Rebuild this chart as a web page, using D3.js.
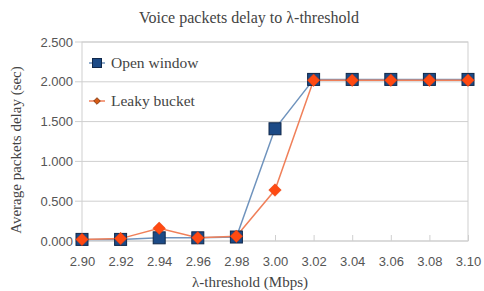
<!DOCTYPE html>
<html>
<head>
<meta charset="utf-8">
<script src="https://cdn.jsdelivr.net/npm/d3@7"></script>
<style>
  body { margin: 0; background: #fff; }
  .axis text { font-family: "Liberation Sans", Arial, sans-serif; font-size: 13px; fill: #555; }
  .ttl { font-family: "Liberation Serif", "Times New Roman", serif; fill: #444; }
</style>
</head>
<body>
<script>
// chart data
const thresholds = [2.90, 2.92, 2.94, 2.96, 2.98, 3.00, 3.02, 3.04, 3.06, 3.08, 3.10];
const openWindow = [0.02, 0.02, 0.04, 0.04, 0.05, 1.41, 2.03, 2.03, 2.03, 2.03, 2.03];
const leakyBucket = [0.02, 0.03, 0.16, 0.04, 0.06, 0.64, 2.02, 2.02, 2.02, 2.02, 2.02];
const yTicks = [0, 0.5, 1, 1.5, 2, 2.5];
const seriesNames = ['Open window', 'Leaky bucket'];

const width = 484, height = 291;
const margin = { top: 42, right: 16, bottom: 50, left: 82 };
const innerW = width - margin.left - margin.right;
const innerH = height - margin.top - margin.bottom;

const svg = d3.select('body').append('svg')
  .attr('width', width)
  .attr('height', height);

const plot = svg.append('g')
  .attr('transform', `translate(${margin.left},${margin.top})`);

const x = d3.scaleLinear().domain([2.90, 3.10]).range([0, innerW]);
const y = d3.scaleLinear().domain([0, 2.5]).range([innerH, 0]);

// gridlines
plot.selectAll('.grid')
  .data(yTicks)
  .enter().append('line')
    .attr('x1', -7).attr('x2', innerW)
    .attr('y1', d => y(d)).attr('y2', d => y(d))
    .attr('stroke', '#cfcfcf').attr('stroke-width', 1);

// frame
plot.append('rect')
  .attr('width', innerW).attr('height', innerH)
  .attr('fill', 'none').attr('stroke', '#cfcfcf');

// axes
const xAxis = d3.axisBottom(x).tickValues(thresholds).tickFormat(d3.format('.2f')).tickSize(6).tickPadding(10);
const yAxis = d3.axisLeft(y).tickValues(yTicks).tickFormat(d3.format('.3f')).tickSize(0).tickPadding(9);

const gx = plot.append('g').attr('class', 'axis')
  .attr('transform', `translate(0,${innerH})`)
  .call(xAxis);
gx.select('.domain').remove();
gx.selectAll('line').attr('stroke', '#cfcfcf').attr('y1', -6).attr('y2', 0);

const gy = plot.append('g').attr('class', 'axis').call(yAxis);
gy.select('.domain').remove();

// titles
svg.append('text').attr('class', 'ttl')
  .attr('x', 249).attr('y', 23)
  .attr('text-anchor', 'middle').attr('font-size', 16)
  .text('Voice packets delay to λ-threshold');

svg.append('text').attr('class', 'ttl')
  .attr('x', 250).attr('y', 287)
  .attr('text-anchor', 'middle').attr('font-size', 15)
  .text('λ-threshold (Mbps)');

svg.append('text').attr('class', 'ttl')
  .attr('transform', `translate(21,150) rotate(-90)`)
  .attr('text-anchor', 'middle').attr('font-size', 15)
  .text('Average packets delay (sec)');

// lines
const line = d3.line().x((d, i) => x(thresholds[i])).y(d => y(d));

plot.append('path').datum(openWindow)
  .attr('fill', 'none').attr('stroke', '#6f93bd').attr('stroke-width', 1.5)
  .attr('d', line);
plot.append('path').datum(leakyBucket)
  .attr('fill', 'none').attr('stroke', '#f0805a').attr('stroke-width', 1.5)
  .attr('d', line);

// markers
plot.selectAll('.sq')
  .data(openWindow)
  .enter().append('rect')
    .attr('class', 'sq')
    .attr('x', (d, i) => x(thresholds[i]) - 6)
    .attr('y', d => y(d) - 6)
    .attr('width', 12).attr('height', 12)
    .attr('fill', '#1c4a86').attr('stroke', '#10284a').attr('stroke-width', 1);

plot.selectAll('.dm')
  .data(leakyBucket)
  .enter().append('path')
    .attr('class', 'dm')
    .attr('transform', (d, i) => `translate(${x(thresholds[i])},${y(d)}) rotate(45)`)
    .attr('d', d3.symbol().type(d3.symbolSquare).size(78))
    .attr('fill', '#ff4a12').attr('stroke', '#e03a08').attr('stroke-width', 0.5);

// legend
const legend = plot.append('g');
const legItems = legend.selectAll('g')
  .data(seriesNames)
  .enter().append('g')
    .attr('transform', (d, i) => `translate(15,${21 + i * 38})`);

legItems.append('line')
  .attr('x1', -8).attr('x2', 8)
  .attr('stroke', (d, i) => i === 0 ? '#6f93bd' : '#f0805a')
  .attr('stroke-width', 1.5);

legItems.filter((d, i) => i === 0).append('rect')
  .attr('x', -4.5).attr('y', -4.5).attr('width', 9).attr('height', 9)
  .attr('fill', '#1c4a86').attr('stroke', '#10284a');

legItems.filter((d, i) => i === 1).append('path')
  .attr('transform', 'rotate(45)')
  .attr('d', d3.symbol().type(d3.symbolSquare).size(22))
  .attr('fill', '#d55a14').attr('stroke', '#7a3008').attr('stroke-width', 0.8);

legItems.append('text')
  .attr('class', 'ttl')
  .attr('x', 14).attr('dy', '0.35em')
  .attr('font-size', 15.5)
  .text(d => d);
</script>
</body>
</html>
